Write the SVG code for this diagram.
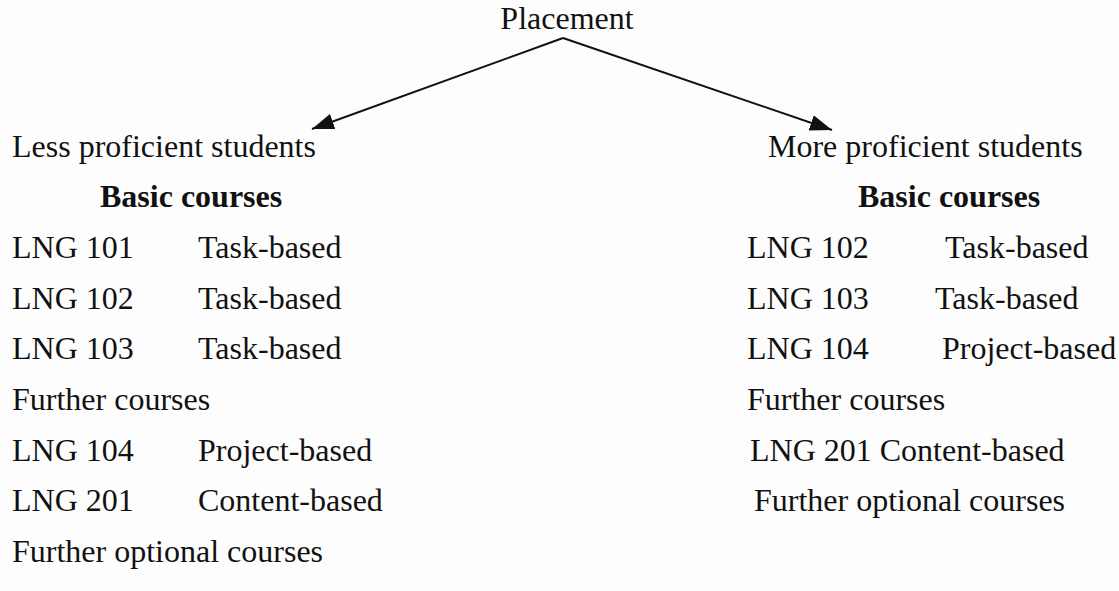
<svg xmlns="http://www.w3.org/2000/svg" width="1119" height="591" viewBox="0 0 1119 591">
<style>
text{font-family:"Liberation Serif","Times New Roman",serif;font-size:32px;fill:#111}
.b{font-weight:bold}
.c{stroke:#111;stroke-width:2;fill:none}
</style>
<defs>
<marker id="ah" viewBox="0 0 22 16" refX="22" refY="8" markerWidth="22" markerHeight="16" markerUnits="userSpaceOnUse" orient="auto">
<path d="M0,0 L22,8 L0,16 z" fill="#111"/>
</marker>
</defs>
<rect width="1119" height="591" fill="#fdfdfd"/>
<g id="placement"><text x="567" y="29" text-anchor="middle">Placement</text></g>
<g id="connectors">
<line class="c" x1="563" y1="38" x2="312" y2="129" marker-end="url(#ah)"/>
<line class="c" x1="563" y1="38" x2="832" y2="130" marker-end="url(#ah)"/>
</g>
<g id="less">
<text x="12" y="157">Less proficient students</text>
<text x="100" y="207" class="b">Basic courses</text>
<text x="12" y="258">LNG 101</text><text x="198" y="258">Task-based</text>
<text x="12" y="309">LNG 102</text><text x="198" y="309">Task-based</text>
<text x="12" y="359">LNG 103</text><text x="198" y="359">Task-based</text>
<text x="12" y="410">Further courses</text>
<text x="12" y="461">LNG 104</text><text x="198" y="461">Project-based</text>
<text x="12" y="511">LNG 201</text><text x="198" y="511">Content-based</text>
<text x="12" y="562">Further optional courses</text>
</g>
<g id="more">
<text x="768" y="157">More proficient students</text>
<text x="858" y="207" class="b">Basic courses</text>
<text x="747" y="258">LNG 102</text><text x="945" y="258">Task-based</text>
<text x="747" y="309">LNG 103</text><text x="935" y="309">Task-based</text>
<text x="747" y="359">LNG 104</text><text x="942" y="359">Project-based</text>
<text x="747" y="410">Further courses</text>
<text x="750" y="461">LNG 201 Content-based</text>
<text x="754" y="511">Further optional courses</text>
</g>
</svg>
